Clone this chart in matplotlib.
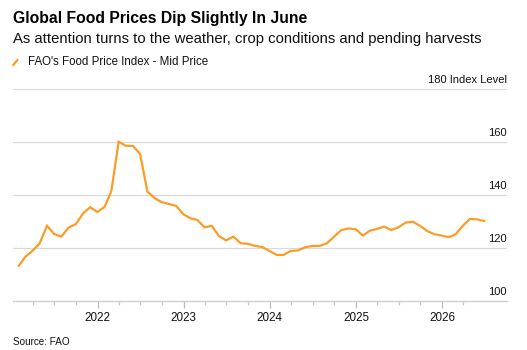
import matplotlib
matplotlib.use("Agg")
import matplotlib.pyplot as plt
import matplotlib.transforms as mtransforms
from matplotlib.lines import Line2D
import pandas as pd

plt.rcParams['font.family'] = ['Liberation Sans', 'DejaVu Sans']

# ---- data ----
values = [
    # 2021
    113.4, 116.8, 119.1, 121.9, 128.5, 125.4, 124.4, 127.9, 129.1, 133.2, 135.5, 133.7,
    # 2022
    135.7, 141.6, 160.2, 158.7, 158.6, 155.6, 141.4, 138.9, 137.4, 136.7, 136.0, 132.8,
    # 2023
    131.3, 130.7, 127.9, 128.5, 124.6, 123.0, 124.4, 121.9, 121.7, 120.9, 120.5, 119.0,
    # 2024
    117.5, 117.5, 119.0, 119.2, 120.4, 120.9, 120.9, 121.9, 124.4, 126.9, 127.5, 127.2,
    # 2025
    124.8, 126.6, 127.3, 128.2, 126.9, 127.9, 129.7, 130.0, 128.5, 126.5, 125.3, 124.8,
    # 2026
    124.2, 125.3, 128.5, 131.1, 130.9, 130.3,
]
dates = pd.date_range("2021-01-31", periods=len(values), freq="ME")
year_ticks = ["2022", "2023", "2024", "2025", "2026"]
y_ticks = [100, 120, 140, 160, 180]
y_labels = ["100", "120", "140", "160", "180 Index Level"]

title = "Global Food Prices Dip Slightly In June"
subtitle = "As attention turns to the weather, crop conditions and pending harvests"
legend_label = "FAO's Food Price Index - Mid Price"
source = "Source: FAO"

line_color = "#fa9d26"
grid_color = "#d9d9d9"

W, H = 527, 350
fig = plt.figure(figsize=(W / 100, H / 100), dpi=100)

left, right = 13.1, 506.7
top_px, bot_px = 89.3, 301.3
ax = fig.add_axes([left / W, 1 - bot_px / H, (right - left) / W, (bot_px - top_px) / H])

ax.plot(dates, values, color=line_color, lw=1.6, solid_joinstyle='miter', zorder=3)

ax.set_xlim(pd.Timestamp("2021-01-07"), pd.Timestamp("2026-10-03"))
ax.set_ylim(100, 180)

# grid
for v in y_ticks[1:]:
    ax.axhline(v, color=grid_color, lw=0.9, zorder=1)
ax.set_yticks([])

for s in ["top", "right", "left"]:
    ax.spines[s].set_visible(False)
ax.spines["bottom"].set_color("#cfcfcf")
ax.spines["bottom"].set_linewidth(1.0)

major = [pd.Timestamp(f"{y}-01-01") for y in year_ticks]
ax.set_xticks(major)
ax.set_xticklabels(year_ticks, fontsize=8.4, color="#111111")
minor = [d for d in pd.date_range("2021-04-01", "2026-04-01", freq="QS-JAN") if d.month != 1]
ax.set_xticks(minor, minor=True)
ax.tick_params(axis="x", which="major", length=5, width=0.9, color="#bdbdbd", pad=3)
ax.tick_params(axis="x", which="minor", length=3, width=0.9, color="#c8c8c8")

# y labels above gridlines, right-aligned
trans = mtransforms.blended_transform_factory(ax.transAxes, ax.transData)
off = mtransforms.ScaledTranslation(0, 4 / 100, fig.dpi_scale_trans)
for v, lab in zip(y_ticks, y_labels):
    ax.text(1.0, v, lab, transform=trans + off, ha="right", va="bottom",
            fontsize=8, color="#111111")

# titles
fig.text(13 / W, 1 - 23 / H, title, fontsize=11.3, fontweight="bold", color="#000000",
         ha="left", va="baseline")
fig.text(13 / W, 1 - 43 / H, subtitle, fontsize=10.72, color="#111111",
         ha="left", va="baseline")
# legend
fig.add_artist(Line2D([13.3 / W, 17.3 / W], [1 - 65 / H, 1 - 60 / H],
                      color=line_color, lw=1.6, transform=fig.transFigure))
fig.text(28 / W, 1 - 64.6 / H, legend_label, fontsize=8.3, color="#111111",
         ha="left", va="baseline")
fig.text(13.4 / W, 1 - 345 / H, source, fontsize=7.1, color="#111111",
         ha="left", va="baseline")

fig.savefig("out.png", dpi=100)
